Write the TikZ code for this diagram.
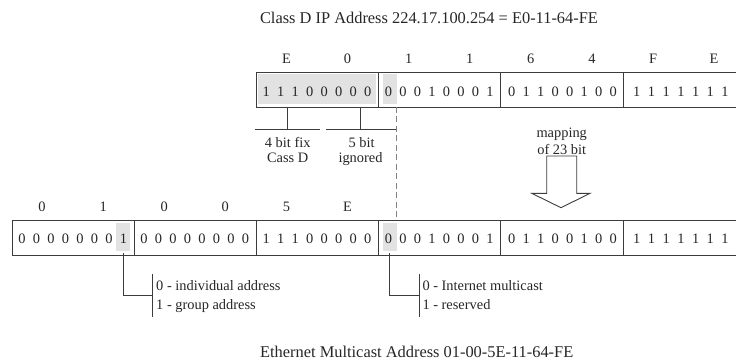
\documentclass[tikz,border=0pt]{standalone}
\usepackage{fontspec}
\setmainfont{Liberation Serif}
\definecolor{shadegray}{RGB}{226,226,226}
\definecolor{linegray}{RGB}{60,60,60}
\definecolor{dashgray}{RGB}{130,130,130}
\tikzset{
  lbl/.style={font=\fontsize{14.4}{17}\selectfont, inner sep=0pt, anchor=base, text=black!85},
  ttl/.style={font=\fontsize{16.4}{19}\selectfont, inner sep=0pt, anchor=base, text=black!85},
  bitbox/.style={draw=linegray, line width=0.9pt, minimum width=122.2pt, minimum height=34.7pt, inner sep=0pt},
  cellshade/.style={fill=shadegray},
  conn/.style={draw=linegray, line width=0.9pt},
  mapline/.style={draw=dashgray, line width=1.2pt, dash pattern=on 6pt off 3.5pt},
  maparrow/.style={draw=linegray, line width=0.9pt, fill=white},
}
\newcommand\bitrow[4]{%
  \foreach \b [count=\i from 0] in {#4} {\node[lbl] (#1\i) at ({#2+(\i-3.5)*14.5},#3) {\b};}}
\newcommand\bitrowseven[4]{%
  \foreach \b [count=\i from 0] in {#4} {\node[lbl] (#1\i) at ({#2+(\i-3)*14.7},#3) {\b};}}
\begin{document}
\begin{tikzpicture}[x=1pt,y=-1pt]
\clip (0,0) rectangle (736,361);
% ---- titles
\node[ttl] (ttop) at (429,24) {Class D IP Address 224.17.100.254 = E0-11-64-FE};
\node[ttl] (tbot) at (416.7,357.6) {Ethernet Multicast Address 01-00-5E-11-64-FE};
% ---- shaded cells
\fill[cellshade] (258.4,74.5) rectangle (375.6,104.3);
\fill[cellshade] (382.7,74.5) rectangle (396.7,104.3);
\fill[cellshade] (116.3,222.6) rectangle (130.3,251.4);
\fill[cellshade] (382.7,222.6) rectangle (396.7,251.4);
% ---- top address bytes
\foreach \k/\xl in {1/255.9,2/378.1,3/500.3,4/622.5}
  \node[bitbox, anchor=north west] (T\k) at (\xl,72) {};
\bitrow{ta}{317}{96}{1,1,1,0,0,0,0,0}
\bitrow{tb}{439.2}{96}{0,0,0,1,0,0,0,1}
\bitrow{tc}{562.5}{96}{0,1,1,0,0,1,0,0}
\bitrowseven{td}{680.9}{96}{1,1,1,1,1,1,1}
% hex labels top
\foreach \h/\x [count=\j] in {E/286.4,0/347.5,1/408.6,1/469.7,6/530.8,4/591.9,F/653,E/714.1}
  \node[lbl] (th\j) at (\x,63.3) {\h};
% ---- bottom address bytes
\foreach \k/\xl in {1/11.5,2/133.7,3/255.9,4/378.1,5/500.3,6/622.5}
  \node[bitbox, anchor=north west] (B\k) at (\xl,219.8) {};
\bitrow{ba}{72.6}{243.5}{0,0,0,0,0,0,0,1}
\bitrow{bb}{194.8}{243.5}{0,0,0,0,0,0,0,0}
\bitrow{bc}{317}{243.5}{1,1,1,0,0,0,0,0}
\bitrow{bd}{439.2}{243.5}{0,0,0,1,0,0,0,1}
\bitrow{be}{562.5}{243.5}{0,1,1,0,0,1,0,0}
\bitrowseven{bf}{680.9}{243.5}{1,1,1,1,1,1,1}
\foreach \h/\x [count=\j] in {0/42,1/103.1,0/164.2,0/225.3,5/286.4,E/347.5}
  \node[lbl] (bh\j) at (\x,211.7) {\h};
% ---- top annotations
\coordinate (a1t) at (287.7,106.7);
\coordinate (a1b) at (287.7,129);
\coordinate (a2t) at (360,106.7);
\coordinate (a2b) at (360,129);
\coordinate (h1l) at (255,129);
\coordinate (h1r) at (320,129);
\coordinate (h2l) at (326,129);
\coordinate (h2r) at (396.7,129);
\draw[conn] (a1t) -- (a1b);
\draw[conn] (a2t) -- (a2b);
\draw[conn] (h1l) -- (h1r);
\draw[conn] (h2l) -- (h2r);
\node[lbl] (fix1) at (287.7,147.3) {4 bit fix};
\node[lbl] (fix2) at (287.7,162.3) {Cass D};
\node[lbl] (ign1) at (361.5,147.3) {5 bit};
\node[lbl] (ign2) at (360.5,162.3) {ignored};
% ---- dashed mapping line
\coordinate (dtop) at (396.7,106.7);
\coordinate (dbot) at (396.7,219.8);
\draw[mapline] (dtop) -- (dbot);
% ---- mapping arrow
\node[lbl] (map1) at (561.7,137.3) {mapping};
\node[lbl] (map2) at (561.7,154) {of 23 bit};
\draw[maparrow] (546.7,156) -- (576.7,156) -- (576.7,193.3) -- (590,193.3)
  -- (561,207.7) -- (531.7,193.3) -- (546.7,193.3) -- cycle;
% ---- bottom annotations
\coordinate (g1t) at (123.3,253.3);
\coordinate (g1c) at (152.3,295);
\coordinate (g1u) at (152.3,274);
\coordinate (g1d) at (152.3,316.7);
\draw[conn] (g1t) |- (g1c);
\draw[conn] (g1u) -- (g1d);
\node[lbl, anchor=base west] (ind) at (156,290.7) {0 - individual address};
\node[lbl, anchor=base west] (grp) at (156,309) {1 - group address};
\coordinate (g2t) at (389.7,253.3);
\coordinate (g2c) at (419,295);
\coordinate (g2u) at (419,274);
\coordinate (g2d) at (419,316.7);
\draw[conn] (g2t) |- (g2c);
\draw[conn] (g2u) -- (g2d);
\node[lbl, anchor=base west] (imc) at (422.3,290.7) {0 - Internet multicast};
\node[lbl, anchor=base west] (res) at (422.3,309) {1 - reserved};
\end{tikzpicture}
\end{document}
